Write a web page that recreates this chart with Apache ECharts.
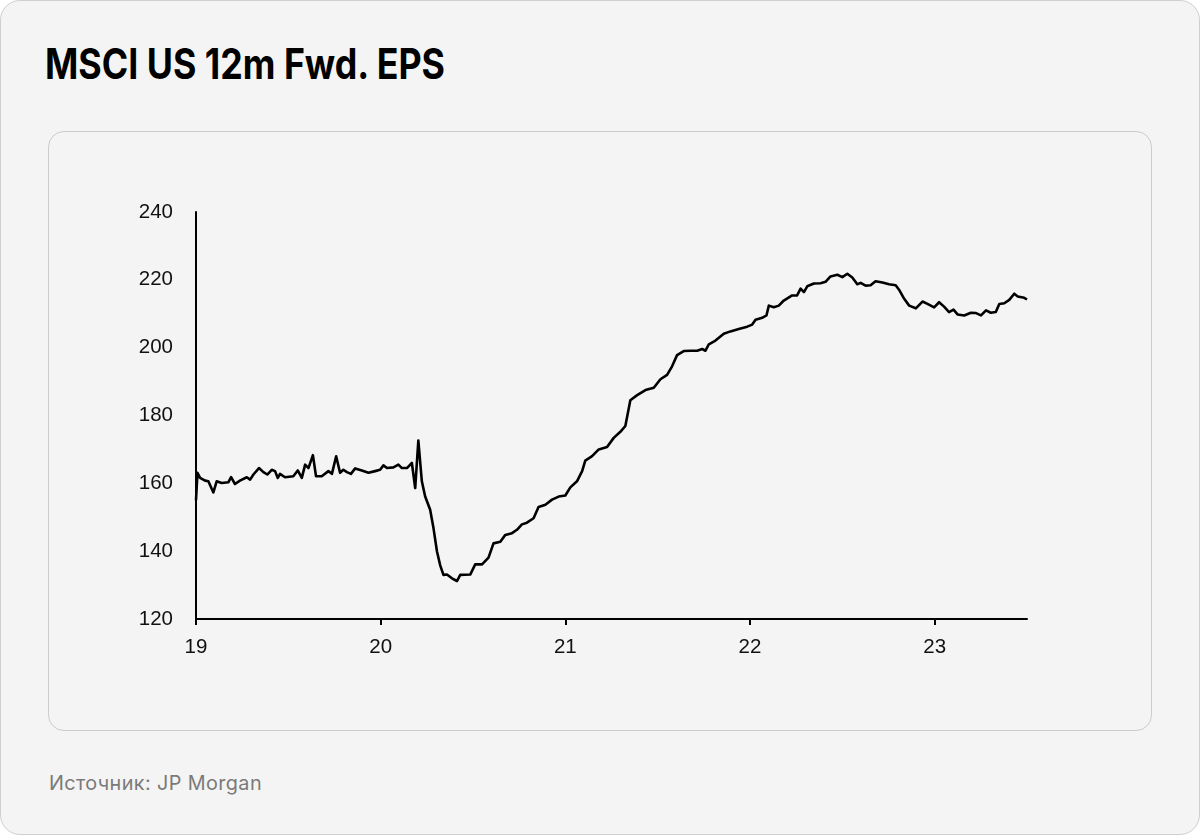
<!DOCTYPE html>
<html>
<head>
<meta charset="utf-8">
<script src="https://cdn.jsdelivr.net/npm/echarts@6/dist/echarts.min.js"></script>
<style>
  html, body { margin: 0; padding: 0; width: 1200px; height: 835px; background: #ffffff; overflow: hidden; }
  #card { position: absolute; left: 0; top: 0; width: 1198px; height: 833px; border: 1px solid #cfcfcf; border-radius: 20px; background: #f4f4f4; }
  #title { position: absolute; left: 45px; top: 38px; font-family: "Inter", "Roboto", sans-serif; font-weight: 700; font-size: 42px; line-height: 52px; color: #000; white-space: nowrap; transform-origin: 0 0; }
  #inner { position: absolute; left: 48px; top: 131px; width: 1102px; height: 598px; border: 1px solid #cccccc; border-radius: 16px; background: #f4f4f4; }
  #source { position: absolute; left: 49px; top: 771px; font-family: "Inter", "Roboto", sans-serif; font-size: 20px; line-height: 24px; letter-spacing: 0.4px; color: #7a7a7a; white-space: nowrap; transform-origin: 0 0; }
  #chart { position: absolute; left: 0; top: 0; width: 1200px; height: 835px; }
</style>
</head>
<body>
<div id="card"></div>
<div id="title">MSCI US 12m Fwd. EPS</div>
<div id="inner"></div>
<div id="source">Источник: JP Morgan</div>
<div id="chart"></div>
<script>
// Decimal year (19 = Jan 2019) and MSCI US 12m forward EPS values
const years = [
  19.000, 19.008, 19.022, 19.049, 19.067, 19.094, 19.112, 19.139, 19.175, 19.190,
  19.211, 19.238, 19.275, 19.293, 19.311, 19.341, 19.365, 19.386, 19.410, 19.428,
  19.443, 19.455, 19.482, 19.527, 19.551, 19.573, 19.591, 19.609, 19.633, 19.650,
  19.681, 19.717, 19.736, 19.759, 19.780, 19.798, 19.817, 19.839, 19.862, 19.898,
  19.934, 19.970, 19.997, 20.015, 20.034, 20.069, 20.096, 20.115, 20.142, 20.169,
  20.187, 20.204, 20.223, 20.241, 20.268, 20.286, 20.305, 20.322, 20.340, 20.359,
  20.386, 20.413, 20.431, 20.485, 20.512, 20.549, 20.584, 20.611, 20.648, 20.675,
  20.711, 20.738, 20.765, 20.792, 20.828, 20.855, 20.892, 20.928, 20.964, 21.000,
  21.027, 21.063, 21.091, 21.108, 21.145, 21.181, 21.226, 21.262, 21.298, 21.325,
  21.352, 21.389, 21.434, 21.479, 21.515, 21.551, 21.578, 21.605, 21.641, 21.678,
  21.714, 21.741, 21.759, 21.777, 21.813, 21.858, 21.894, 21.939, 21.985, 22.012,
  22.030, 22.066, 22.089, 22.102, 22.129, 22.156, 22.183, 22.228, 22.255, 22.274,
  22.292, 22.310, 22.346, 22.382, 22.409, 22.436, 22.473, 22.500, 22.527, 22.554,
  22.581, 22.599, 22.626, 22.653, 22.680, 22.717, 22.753, 22.789, 22.807, 22.835,
  22.862, 22.898, 22.934, 22.961, 22.997, 23.024, 23.051, 23.078, 23.102, 23.124,
  23.160, 23.196, 23.224, 23.251, 23.278, 23.304, 23.331, 23.350, 23.377, 23.404,
  23.431, 23.450, 23.485, 23.500
];
const eps = [
  155.0, 163.1, 161.6, 160.8, 160.6, 157.3, 160.6, 160.1, 160.3, 161.8,
  159.8, 160.8, 161.8, 161.1, 162.6, 164.5, 163.3, 162.6, 164.0, 163.6,
  161.6, 162.8, 161.8, 162.1, 163.8, 161.6, 165.5, 164.5, 168.3, 162.1,
  162.1, 163.6, 162.8, 168.0, 163.1, 164.0, 163.3, 162.8, 164.4, 163.8,
  163.1, 163.6, 164.0, 165.3, 164.5, 164.7, 165.5, 164.5, 164.5, 166.0,
  158.6, 172.6, 160.6, 156.1, 152.2, 146.8, 139.9, 135.9, 133.0, 133.1,
  132.0, 131.2, 133.0, 133.1, 136.1, 136.1, 138.1, 142.3, 142.8, 144.8,
  145.3, 146.3, 147.9, 148.4, 149.7, 153.0, 153.7, 155.2, 156.1, 156.4,
  158.8, 160.6, 163.6, 166.7, 168.0, 170.0, 170.7, 173.4, 175.2, 176.9,
  184.5, 186.0, 187.5, 188.2, 190.7, 192.0, 194.5, 197.8, 199.0, 199.1,
  199.1, 199.6, 199.1, 201.0, 202.1, 204.1, 204.8, 205.5, 206.2, 206.8,
  208.2, 208.8, 209.5, 212.4, 211.9, 212.4, 213.9, 215.4, 215.4, 217.4,
  216.4, 218.1, 218.9, 219.0, 219.4, 221.0, 221.5, 220.8, 221.8, 220.7,
  218.7, 219.1, 218.3, 218.4, 219.6, 219.2, 218.7, 218.4, 217.1, 214.4,
  212.4, 211.6, 213.6, 212.9, 211.9, 213.4, 212.1, 210.5, 211.2, 209.8,
  209.5, 210.3, 210.2, 209.5, 211.0, 210.3, 210.5, 212.9, 213.1, 214.1,
  215.9, 215.1, 214.7, 214.2
];
const xTicks = [19, 20, 21, 22, 23];
const yTicks = [120, 140, 160, 180, 200, 220, 240];

// fit title / source text widths to the reference
function fitWidth(id, w) {
  const el = document.getElementById(id);
  const cur = el.getBoundingClientRect().width;
  if (cur > 0) el.style.transform = 'scaleX(' + (w / cur) + ')';
}
fitWidth('title', 400);
fitWidth('source', 213);

const chart = echarts.init(document.getElementById('chart'), null, { renderer: 'canvas' });
const labelFont = { fontFamily: '"Liberation Sans", Arial, sans-serif', fontSize: 20.5, color: '#111111' };
chart.setOption({
  backgroundColor: 'transparent',
  animation: false,
  grid: { left: 196, right: 173, top: 212, bottom: 216, containLabel: false },
  xAxis: {
    type: 'value',
    min: 19,
    max: 23.5,
    interval: 1,
    splitLine: { show: false },
    axisLine: { show: true, lineStyle: { color: '#000000', width: 2 } },
    axisTick: { show: true, length: 6, lineStyle: { color: '#000000', width: 2 }, customValues: xTicks },
    axisLabel: Object.assign({ margin: 18, customValues: xTicks, formatter: v => String(v) }, labelFont)
  },
  yAxis: {
    type: 'value',
    min: yTicks[0],
    max: yTicks[yTicks.length - 1],
    interval: 20,
    splitLine: { show: false },
    axisLine: { show: true, lineStyle: { color: '#000000', width: 2 } },
    axisTick: { show: false },
    axisLabel: Object.assign({ margin: 23 }, labelFont)
  },
  series: [{
    type: 'line',
    data: years.map((y, i) => [y, eps[i]]),
    showSymbol: false,
    smooth: false,
    lineStyle: { color: '#000000', width: 2.6, join: 'round' }
  }]
});
</script>
</body>
</html>
